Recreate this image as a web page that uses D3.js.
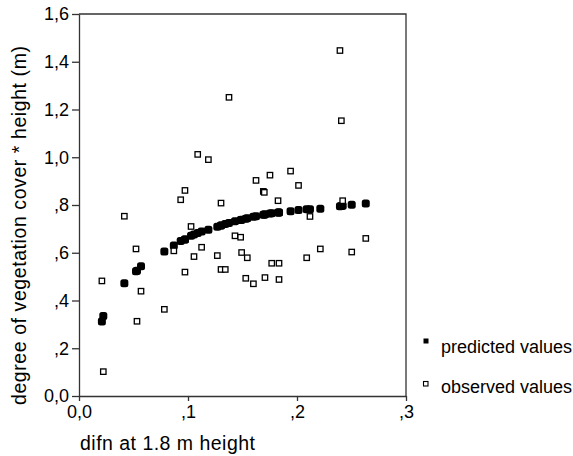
<!DOCTYPE html>
<html>
<head>
<meta charset="utf-8">
<script src="https://cdn.jsdelivr.net/npm/d3@7/dist/d3.min.js"></script>
<style>
  body { margin: 0; background: #fff; }
  svg { font-family: "Liberation Sans", Arial, sans-serif; }
</style>
</head>
<body>
<div id="chart"></div>
<script>
var w = 573;
var h = 456;

// difn values (x), one per case
var difn = [
    0.0210, 0.0223, 0.0416, 0.0523, 0.0532, 0.0569, 0.0783, 0.0870, 0.0933, 0.0972,
    0.0972, 0.1028, 0.1055, 0.1089, 0.1125, 0.1187, 0.1269, 0.1303, 0.1303, 0.1342,
    0.1376, 0.1431, 0.1483, 0.1492, 0.1530, 0.1544, 0.1600, 0.1624, 0.1691, 0.1700,
    0.1706, 0.1752, 0.1768, 0.1826, 0.1835, 0.1835, 0.1941, 0.2014, 0.2089, 0.2119,
    0.2214, 0.2394, 0.2407, 0.2419, 0.2502, 0.2631
];

var observed = [
    0.482, 0.102, 0.753, 0.616, 0.313, 0.439, 0.363, 0.608, 0.822, 0.861,
    0.519, 0.710, 0.584, 1.012, 0.623, 0.990, 0.588, 0.808, 0.530, 0.530,
    1.251, 0.671, 0.665, 0.601, 0.493, 0.579, 0.470, 0.903, 0.857, 0.853,
    0.496, 0.925, 0.556, 0.818, 0.556, 0.488, 0.942, 0.882, 0.579, 0.752,
    0.616, 1.447, 1.153, 0.818, 0.603, 0.660
];

var predicted = [
    0.312, 0.335, 0.472, 0.522, 0.525, 0.543, 0.605, 0.630, 0.649, 0.656,
    0.656, 0.671, 0.676, 0.683, 0.689, 0.696, 0.709, 0.714, 0.714, 0.720,
    0.725, 0.732, 0.737, 0.738, 0.742, 0.744, 0.751, 0.753, 0.759, 0.760,
    0.760, 0.764, 0.765, 0.769, 0.769, 0.769, 0.774, 0.779, 0.782, 0.782,
    0.784, 0.795, 0.796, 0.797, 0.801, 0.806
];

var xTicks = [0, 0.1, 0.2, 0.3];
var yTicks = [0, 0.2, 0.4, 0.6, 0.8, 1.0, 1.2, 1.4, 1.6];
var legendLabels = ["predicted values", "observed values"];

var mLeft = 79, mRight = 406, mTop = 14, mBottom = 396;

var svg = d3.select("#chart")
    .append("svg")
    .attr("width", w)
    .attr("height", h);

var xScale = d3.scaleLinear().domain([0, 0.3]).range([mLeft, mRight]);
var yScale = d3.scaleLinear().domain([0, 1.6]).range([mBottom, mTop]);

// SPSS style labels: 0,0  ,1  1,2 ...
function fmt(d) {
    if (d === 0) return "0,0";
    var s = d3.format(".1f")(d).replace(".", ",");
    return s.charAt(0) === "0" ? s.slice(1) : s;
}

var lineCol = "#333";

// frame (top + right)
svg.append("path")
    .attr("d", "M" + mLeft + "," + mTop + "H" + mRight + "V" + mBottom)
    .attr("fill", "none")
    .attr("stroke", lineCol)
    .attr("stroke-width", 1.3);

var xAxis = d3.axisBottom(xScale).tickValues(xTicks).tickFormat(fmt).tickSize(5).tickSizeOuter(0).tickPadding(4);
var yAxis = d3.axisLeft(yScale).tickValues(yTicks).tickFormat(fmt).tickSize(7).tickSizeOuter(0).tickPadding(3);

var gx = svg.append("g")
    .attr("transform", "translate(0," + mBottom + ")")
    .call(xAxis);

var gy = svg.append("g")
    .attr("transform", "translate(" + mLeft + ",0)")
    .call(yAxis);

[gx, gy].forEach(function (g) {
    g.selectAll("path, line").attr("stroke", lineCol).attr("stroke-width", 1.3);
    g.selectAll("text")
        .attr("font-family", "Liberation Sans, Arial, sans-serif")
        .attr("font-size", "18px")
        .attr("fill", "#000");
});

// predicted values
svg.append("g")
    .selectAll("rect")
    .data(difn)
    .enter()
    .append("rect")
    .attr("x", function (d) { return xScale(d) - 4; })
    .attr("y", function (d, i) { return yScale(predicted[i]) - 4; })
    .attr("width", 8)
    .attr("height", 8)
    .attr("rx", 2.5)
    .attr("fill", "#000");

// observed values
svg.append("g")
    .selectAll("rect")
    .data(difn)
    .enter()
    .append("rect")
    .attr("x", function (d) { return xScale(d) - 2.7; })
    .attr("y", function (d, i) { return yScale(observed[i]) - 2.7; })
    .attr("width", 5.4)
    .attr("height", 5.4)
    .attr("fill", "#fff")
    .attr("stroke", "#000")
    .attr("stroke-width", 1.3);

// axis titles
svg.append("text")
    .attr("x", 80)
    .attr("y", 450)
    .attr("font-size", "19.5px")
    .attr("textLength", 175)
    .attr("lengthAdjust", "spacing")
    .text("difn at 1.8 m height");

svg.append("text")
    .attr("transform", "translate(26," + ((46 + 405) / 2) + ") rotate(-90)")
    .attr("text-anchor", "middle")
    .attr("font-size", "19.5px")
    .attr("textLength", 359)
    .attr("lengthAdjust", "spacing")
    .text("degree of vegetation cover * height (m)");

// legend
var legend = svg.append("g");
legend.append("rect")
    .attr("x", 423.5).attr("y", 338.5)
    .attr("width", 5).attr("height", 5)
    .attr("fill", "#000");
legend.append("rect")
    .attr("x", 423.5).attr("y", 381.5)
    .attr("width", 4.5).attr("height", 4.5)
    .attr("fill", "#fff")
    .attr("stroke", "#000")
    .attr("stroke-width", 1.1);

legend.selectAll("text")
    .data(legendLabels)
    .enter()
    .append("text")
    .attr("x", 441)
    .attr("y", function (d, i) { return 353 + i * 40; })
    .attr("font-size", "18px")
    .text(function (d) { return d; });
</script>
</body>
</html>
